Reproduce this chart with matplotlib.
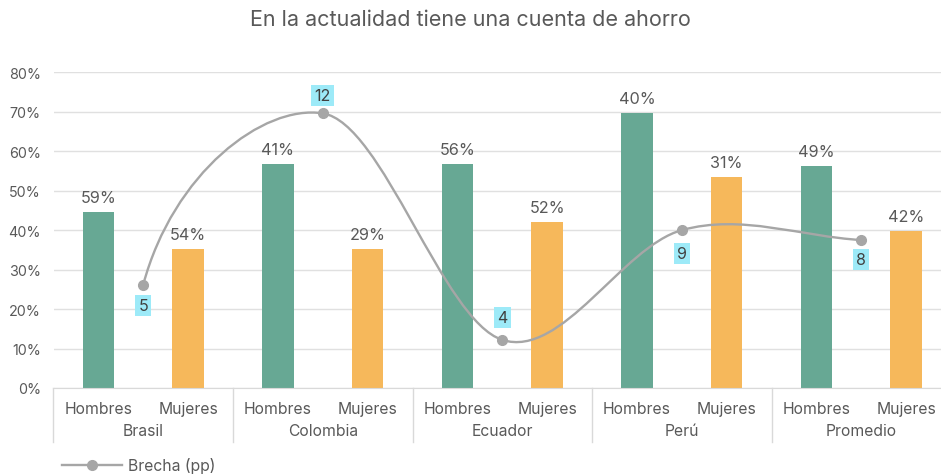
import matplotlib.pyplot as plt
import numpy as np
from matplotlib.path import Path
from matplotlib.patches import PathPatch
from matplotlib.lines import Line2D
from matplotlib.transforms import blended_transform_factory

plt.rcParams['font.family'] = ['Inter', 'DejaVu Sans']

# datos
paises = ['Brasil', 'Colombia', 'Ecuador', 'Perú', 'Promedio']
sexos = ['Hombres', 'Mujeres']
hombres = [44.6, 56.8, 56.8, 69.8, 56.3]
mujeres = [35.2, 35.2, 42.1, 53.5, 39.8]
etiq_hombres = ['59%', '41%', '56%', '40%', '49%']
etiq_mujeres = ['54%', '29%', '52%', '31%', '42%']
brecha = [26.2, 69.6, 12.2, 40.0, 37.5]
etiq_brecha = ['5', '12', '4', '9', '8']

# desplazamiento vertical (pt) de las etiquetas de la brecha
desp_brecha = [-15, 13, 16, -17, -14]

VERDE = '#67A894'
NARANJA = '#F6B85B'
GRIS_TXT = '#595959'
GRIS_LIN = '#A6A6A6'
GRID = '#E0E0E0'


def curva_suave(xs, ys):
    # curva tipo "linea suavizada" de Excel (bezier cubica)
    P = np.column_stack([xs, ys]).astype(float)
    n = len(P)
    brazos = np.zeros_like(P)
    for i in range(1, n - 1):
        brazos[i] = (P[i + 1] - P[i - 1]) / 6
    brazos[-1] = (P[-1] - P[-2]) / 3
    brazos[0] = 7 / 12 * (P[1] - P[0]) - 5 / 4 * brazos[1]
    verts = [P[0]]
    codes = [Path.MOVETO]
    for i in range(n - 1):
        verts += [P[i] + brazos[i], P[i + 1] - brazos[i + 1], P[i + 1]]
        codes += [Path.CURVE4] * 3
    return Path(verts, codes)


W, H = 941, 477
fig = plt.figure(figsize=(W / 100, H / 100), dpi=100)
ax = fig.add_axes([53.5 / W, (H - 389) / H, 897.5 / W, (389 - 73.3) / H])

n = len(paises)
x_h = np.arange(n) * 2
x_m = x_h + 1
x_b = x_h + 0.5
ancho = 0.35

ax.bar(x_h, hombres, ancho, color=VERDE, zorder=2)
ax.bar(x_m, mujeres, ancho, color=NARANJA, zorder=2)

for xi, v, t in zip(x_h, hombres, etiq_hombres):
    ax.annotate(t, (xi, v), xytext=(0, 5), textcoords='offset points',
                ha='center', va='bottom', fontsize=11.7, color=GRIS_TXT)
for xi, v, t in zip(x_m, mujeres, etiq_mujeres):
    ax.annotate(t, (xi, v), xytext=(0, 5), textcoords='offset points',
                ha='center', va='bottom', fontsize=11.7, color=GRIS_TXT)

# linea de la brecha
ax.add_patch(PathPatch(curva_suave(x_b, brecha), fill=False, edgecolor=GRIS_LIN,
                       lw=1.7, zorder=3, capstyle='round'))
ax.plot(x_b, brecha, ls='none', marker='o', ms=7, color=GRIS_LIN, zorder=4)
for xi, v, t, d in zip(x_b, brecha, etiq_brecha, desp_brecha):
    ax.annotate(t, (xi, v), xytext=(0, d), textcoords='offset points',
                ha='center', va='center', fontsize=11.5, color='#404040', zorder=5,
                bbox=dict(boxstyle='square,pad=0.2', fc='#9DEAF8', ec='none'))

ax.set_xlim(-0.5, 2 * n - 0.5)
ax.set_ylim(0, 80)
ax.set_yticks(np.arange(0, 81, 10))
ax.set_yticklabels([f'{v}%' for v in range(0, 81, 10)])
ax.tick_params(axis='y', length=0, pad=9, labelsize=10.3, labelcolor=GRIS_TXT)
ax.set_xticks([])
ax.grid(axis='y', color=GRID, lw=1, zorder=0)
for s in ['left', 'right', 'top']:
    ax.spines[s].set_visible(False)
ax.spines['bottom'].set_color('#D9D9D9')

# etiquetas de categorias en dos niveles
tr = blended_transform_factory(ax.transData, fig.transFigure)
for i in range(n):
    ax.text(x_h[i], 1 - 409.5 / H, sexos[0], transform=tr, ha='center', va='center',
            fontsize=11.3, color=GRIS_TXT)
    ax.text(x_m[i], 1 - 409.5 / H, sexos[1], transform=tr, ha='center', va='center',
            fontsize=11.3, color=GRIS_TXT)
    ax.text(x_b[i], 1 - 432 / H, paises[i], transform=tr, ha='center', va='center',
            fontsize=11.3, color=GRIS_TXT)
for i in range(n + 1):
    ax.add_line(Line2D([2 * i - 0.5] * 2, [1 - 389 / H, 1 - 443 / H], transform=tr,
                       color='#D9D9D9', lw=1, clip_on=False))

fig.text(0.5, 1 - 20 / H, 'En la actualidad tiene una cuenta de ahorro',
         ha='center', va='center', fontsize=15.5, color=GRIS_TXT)

h = Line2D([], [], color=GRIS_LIN, lw=1.7, marker='o', ms=7)
fig.legend([h], ['Brecha (pp)'], loc='center left', bbox_to_anchor=(48 / W, 1 - 466 / H),
           frameon=False, fontsize=11.3, handlelength=3.8, handletextpad=0.4,
           labelcolor=GRIS_TXT)

fig.savefig('out.png', dpi=100)
